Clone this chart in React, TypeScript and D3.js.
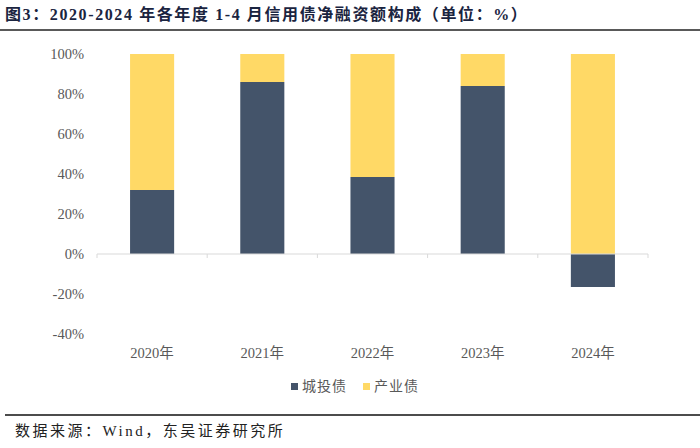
import React from "react";
import * as d3 from "d3";

const categories = ["2020年", "2021年", "2022年", "2023年", "2024年"];
const chengtou = [32, 86, 38.5, 84, -16.5];
const chanye = [68, 14, 61.5, 16, 100];
const seriesNames = ["城投债", "产业债"];
const yTicks = [-40, -20, 0, 20, 40, 60, 80, 100];

const W = 700;
const H = 448;
const colors = ["#44546A", "#FFD966"];
const serif = "'Liberation Serif', 'Times New Roman', 'Noto Sans CJK SC', serif";

export default function App() {
  const x = d3.scaleBand<string>().domain(categories).range([97, 648]).paddingInner(0.6).paddingOuter(0.3);
  const y = d3.scaleLinear().domain([-40, 100]).range([334, 54]);

  const rows = categories.map((c, i) => ({ cat: c, a: chengtou[i], b: chanye[i] }));
  const stack = d3.stack<any>().keys(["a", "b"]).offset(d3.stackOffsetDiverging);
  const layers = stack(rows as any);

  return (
    <svg width={W} height={H} style={{ position: "absolute", left: 0, top: 0, background: "#fff" }}>
      <text x={5} y={20} fontFamily={serif} fontWeight="bold" fontSize={16} letterSpacing={1.6} fill="#1a2440">
        图3：2020-2024 年各年度 1-4 月信用债净融资额构成（单位：%）
      </text>
      <line x1={0} x2={700} y1={30} y2={30} stroke="#222" strokeWidth={1.5} />

      {yTicks.map((t) => (
        <text key={t} x={84} y={y(t)} dy="0.35em" textAnchor="end" fontFamily={serif} fontSize={14.5} fill="#595959">
          {t}%
        </text>
      ))}

      {layers.map((layer, li) =>
        layer.map((d, i) => (
          <rect
            key={li + "-" + i}
            x={x(categories[i])}
            width={x.bandwidth()}
            y={y(Math.max(d[0], d[1]))}
            height={Math.abs(y(d[0]) - y(d[1]))}
            fill={colors[li]}
          />
        ))
      )}

      <line x1={97} x2={648} y1={y(0)} y2={y(0)} stroke="#d9d9d9" strokeWidth={1} />
      {d3.range(categories.length + 1).map((i) => {
        const xx = 97 + (i * (648 - 97)) / categories.length;
        return <line key={i} x1={xx} x2={xx} y1={y(0)} y2={y(0) + 4} stroke="#d9d9d9" strokeWidth={1} />;
      })}

      {categories.map((c) => (
        <text key={c} x={(x(c) as number) + x.bandwidth() / 2} y={358} textAnchor="middle" fontFamily={serif} fontSize={14.5} fill="#595959">
          {c}
        </text>
      ))}

      <rect x={291} y={383} width={7} height={7} fill={colors[0]} />
      <text x={302} y={391} fontFamily={serif} fontSize={14} letterSpacing={1} fill="#595959">{seriesNames[0]}</text>
      <rect x={363} y={383} width={7} height={7} fill={colors[1]} />
      <text x={374} y={391} fontFamily={serif} fontSize={14} letterSpacing={1} fill="#595959">{seriesNames[1]}</text>

      <line x1={5} x2={700} y1={415} y2={415} stroke="#111" strokeWidth={1.5} />
      <text x={15} y={436} fontFamily={serif} fontSize={15} letterSpacing={2.5} fill="#222">
        数据来源：Wind，东吴证券研究所
      </text>
    </svg>
  );
}
